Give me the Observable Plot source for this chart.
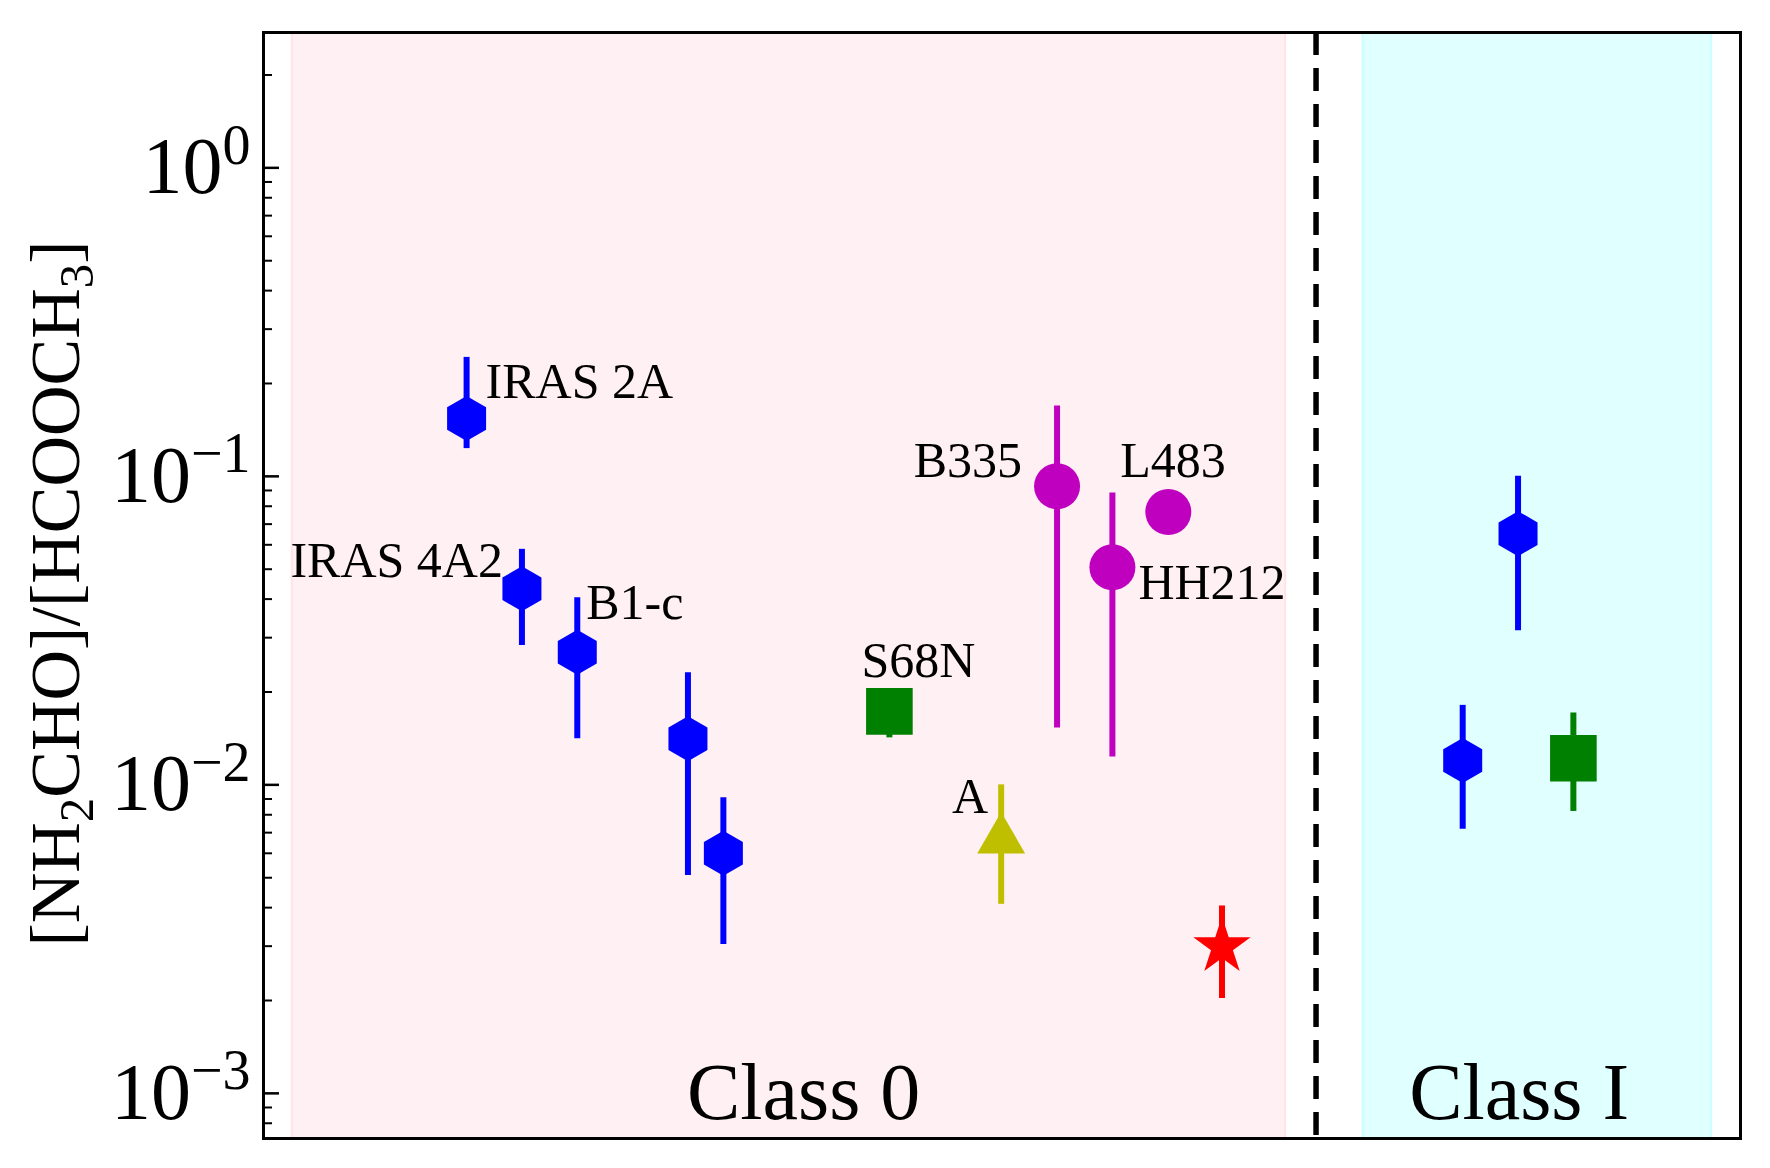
<!DOCTYPE html>
<html><head><meta charset="utf-8">
<script src="https://cdn.jsdelivr.net/npm/d3@7"></script>
<script src="https://cdn.jsdelivr.net/npm/@observablehq/plot@0.6"></script>
<style>html,body{margin:0;padding:0;background:#fff;} svg{display:block;}</style>
</head><body><div id="chart"></div>
<script>
// ---------------- data ----------------
// blue hexagons (Class 0 then Class I)
const hexX  = [1, 2, 3, 5, 5.64, 19, 20];
const hexY  = [0.154, 0.0432, 0.0269, 0.0141, 0.0060, 0.0120, 0.0652];
const hexLo = [0.123, 0.0283, 0.0141, 0.00508, 0.00304, 0.00718, 0.0316];
const hexHi = [0.243, 0.058, 0.0404, 0.0231, 0.00908, 0.0181, 0.100];
// green squares
const sqX  = [8.64, 21];
const sqY  = [0.0173, 0.0122];
const sqLo = [0.0142, 0.0082];
const sqHi = [0.0195, 0.0171];
// magenta circles (B335, HH212, L483)
const cirX  = [11.67, 12.67, 13.68];
const cirY  = [0.0929, 0.0507, 0.0766];
const cirLo = [0.0153, 0.0123, null];
const cirHi = [0.169, 0.0883, null];
// yellow triangle (A)
const triX = [10.66], triY = [0.0070], triLo = [0.0041], triHi = [0.0100];
// red star
const starX = [14.65], starY = [0.00299], starLo = [0.00203], starHi = [0.00405];

// source labels
const labelText = ["IRAS 2A", "IRAS 4A2", "B1-c", "S68N", "A", "B335", "HH212", "L483"];
const labelX    = [1, 2, 3, 8.64, 10.66, 11.67, 12.67, 13.68];
const labelY    = [0.154, 0.0432, 0.0269, 0.0173, 0.0070, 0.0929, 0.0507, 0.0766];

// class regions
const classNames = ["Class 0", "Class I"];
const classX = [7.09, 20.02];
const classTextY = [0.001, 0.001];
const bandX1 = [-2.15, 17.2];
const bandX2 = [15.8, 23.5];
const dividerX = [16.35];

const yTickMajor = [1e-3, 1e-2, 1e-1, 1];
const yTickLabels = [["10", "\u22123"], ["10", "\u22122"], ["10", "\u22121"], ["10", "0"]];
const yLabel = "[NH2CHO]/[HCOOCH3]";
const yLabelParts = [["[NH", ""], ["2", "sub"], ["CHO]/[HCOOCH", ""], ["3", "sub"], ["]", ""]];

// ---------------- layout / style ----------------
const W = 1770, H = 1168;
const M = {left: 263, right: 30, top: 32, bottom: 30};
const innerW = W - M.left - M.right;
const xDomain = [-2.67, 24.02];
const yDomain = [7.14e-4, 2.746];
const FONT = "Liberation Serif";
const TICKFONT = 80, YLABFONT = 70;
const ERRW = 6;
const labelStyle = [
  {anchor: "start", dx: 19, dy: -36},
  {anchor: "end", dx: -19, dy: -28},
  {anchor: "start", dx: 9, dy: -49},
  {anchor: "start", dx: -28, dy: -50},
  {anchor: "end", dx: -13, dy: -36},
  {anchor: "end", dx: -35, dy: -25},
  {anchor: "start", dx: 26, dy: 16},
  {anchor: "start", dx: -48, dy: -51}
];

const rows = (xs, ys, lo, hi) => xs.map((x, i) => ({x, y: ys[i], lo: lo[i], hi: hi[i]}));
const hex = rows(hexX, hexY, hexLo, hexHi);
const sq = rows(sqX, sqY, sqLo, sqHi);
const cir = rows(cirX, cirY, cirLo, cirHi);
const tri = rows(triX, triY, triLo, triHi);
const star = rows(starX, starY, starLo, starHi);
const withErr = a => a.filter(d => d.lo != null);

const allTicks = d3.scaleLog().domain(yDomain).ticks().filter(t => t >= yDomain[0] && t <= yDomain[1]);
const minorTicks = allTicks.filter(t => !yTickMajor.some(m => Math.abs(m - t) / m < 1e-6));
const bands = bandX1.map((x1, i) => ({x1, x2: bandX2[i]}));
const bandFill = ["#fff0f3", "#e0ffff"];
const bandStroke = ["#ffe3e9", "#c8ffff"];

const err = (data, color) => Plot.ruleX(withErr(data), {x: "x", y1: "lo", y2: "hi", stroke: color, strokeWidth: ERRW});

const marks = [
  ...bands.map((b, i) => Plot.rect([b], {x1: "x1", x2: "x2", fill: bandFill[i], stroke: bandStroke[i], strokeWidth: 2})),
  Plot.ruleX(dividerX, {stroke: "black", strokeWidth: 5.5, strokeDasharray: "23,13"}),
  err(hex, "#0000ff"), err(sq, "#008000"), err(cir, "#bf00bf"), err(tri, "#bfbf00"), err(star, "#ff0000"),
  Plot.dot(hex, {x: "x", y: "y", symbol: "hexagon", r: 19.5, fill: "#0000ff"}),
  Plot.dot(sq, {x: "x", y: "y", symbol: "square", r: 26.3, fill: "#008000"}),
  Plot.dot(cir, {x: "x", y: "y", symbol: "circle", r: 23, fill: "#bf00bf"}),
  Plot.dot(tri, {x: "x", y: "y", symbol: "triangle", r: 17.8, dy: 7, fill: "#bfbf00"}),
  Plot.dot(star, {x: "x", y: "y", symbol: "star", r: 18, fill: "#ff0000"}),
  ...labelText.map((t, i) => Plot.text([{t, x: labelX[i], y: labelY[i]}], {
    x: "x", y: "y", text: "t", textAnchor: labelStyle[i].anchor, dx: labelStyle[i].dx, dy: labelStyle[i].dy,
    fontSize: 50, fontFamily: FONT, fill: "black"
  })),
  Plot.text(classNames.map((c, i) => ({c, x: classX[i], y: classTextY[i]})), {
    x: "x", y: "y", text: "c", fontSize: 80, fontFamily: FONT, fill: "black"
  }),
  Plot.tickY(minorTicks, {y: d => d, stroke: "black", strokeWidth: 2, insetRight: innerW - 9}),
  Plot.tickY(yTickMajor, {y: d => d, stroke: "black", strokeWidth: 2.5, insetRight: innerW - 16}),
  Plot.axisY({ticks: yTickMajor, tickSize: 0, tickPadding: 13, label: null, fontSize: TICKFONT, fontFamily: FONT,
    tickFormat: d => { const i = yTickMajor.findIndex(m => Math.abs(m - d) / m < 1e-6); return i >= 0 ? yTickLabels[i].join("|") : ""; }}),
  Plot.text([yLabel], {frameAnchor: "left", textAnchor: "middle", dx: -207, dy: 8, rotate: -90, text: d => d, fontSize: YLABFONT, fontFamily: FONT, fill: "black"}),
  Plot.frame({stroke: "black", strokeWidth: 3})
];

const plot = Plot.plot({
  width: W, height: H,
  marginLeft: M.left, marginRight: M.right, marginTop: M.top, marginBottom: M.bottom,
  style: {fontFamily: FONT, background: "white", color: "black"},
  x: {domain: xDomain, axis: null},
  y: {type: "log", domain: yDomain, axis: null},
  marks
});

// ---- post-process rich text (superscripts / subscripts) ----
const NS = "http://www.w3.org/2000/svg";
function setParts(el, parts, base) {
  el.textContent = "";
  let cur = 0;
  for (const [s, kind] of parts) {
    const t = document.createElementNS(NS, "tspan");
    t.textContent = s;
    const target = kind === "sub" ? 0.2 * base : kind === "sup" ? -0.37 * base : 0;
    if (target !== cur) { t.setAttribute("dy", (target - cur) + "px"); cur = target; }
    if (kind) t.setAttribute("font-size", (0.7 * base) + "px");
    el.appendChild(t);
  }
}
plot.querySelectorAll("text").forEach(el => {
  const s = el.textContent;
  if (s === yLabel) setParts(el, yLabelParts, YLABFONT);
  else if (/^10\|/.test(s)) { const [a, b] = s.split("|"); setParts(el, [[a, ""], [b, "sup"]], TICKFONT); }
});

document.getElementById("chart").appendChild(plot);
</script>
</body></html>
